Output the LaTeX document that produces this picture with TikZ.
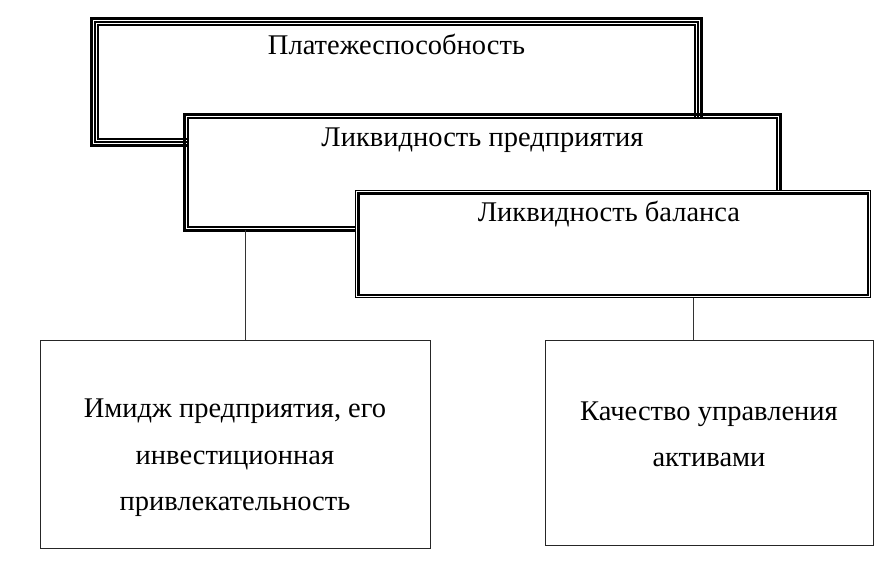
\documentclass[tikz,border=0pt]{standalone}
\usepackage{fontspec}
\setmainfont{Liberation Serif}
\usetikzlibrary{positioning, fit}

\begin{document}
\begin{tikzpicture}[
    x=1pt, y=-1pt,
    txt/.style={font=\fontsize{28.5}{46.5}\selectfont, align=center},
    frame/.style={rectangle, draw, fill=white, outer sep=0pt, line width=1.2pt},
    tripleframe/.style={frame, double=white, double distance=1.3pt, line width=1.4pt},
    rim/.style={rectangle, draw, line width=#1, inner sep=0pt, outer sep=0pt},
    plainbox/.style={rectangle, draw=black!85, fill=white, line width=1pt},
    link/.style={draw=black!80, line width=1pt}
]
    \useasboundingbox (0,0) rectangle (896,572);

    % upper stack of framed boxes
    \node (solv) [tripleframe, minimum width=600pt, minimum height=117pt] at (396.5,82) {};
    \node (solvrim) [rim=3pt, fit=(solv), inner sep=4.6pt] {};
    \node (solvtxt) [txt, anchor=base] at ([yshift=-31pt]solv.north) {Платежеспособность};

    \node (firm) [frame, minimum width=589pt, minimum height=109pt] at (482.5,172.5) {};
    \node (firmrim) [rim=3pt, fit=(firm), inner sep=3.3pt] {};
    \node (firmtxt) [txt, anchor=base] at ([yshift=-29pt]firm.north) {Ликвидность предприятия};

    \node (bal) [frame, minimum width=515pt, minimum height=107pt] at (613,244) {};
    \node (balrim) [rim=2.4pt, fit=(bal), inner sep=-2.8pt] {};
    \node (baltxt) [txt, anchor=base] at ([yshift=-31pt, xshift=-4pt]bal.north) {Ликвидность баланса};

    % lower boxes
    \node (image) [plainbox, minimum width=390pt, minimum height=208pt] at (235,444) {};
    \node (imagetxt) [txt] at ([yshift=-14pt]image.center)
        {Имидж предприятия, его\\инвестиционная\\привлекательность};
    \node (assets) [plainbox, minimum width=328pt, minimum height=205pt] at (709,442.5) {};
    \node (assetstxt) [txt] at ([yshift=8pt]assets.center) {Качество управления\\активами};

    \draw[link] ([xshift=10pt]image.north) -- ([xshift=10pt]image.north |- firmrim.south);
    \draw[link] ([xshift=-16pt]assets.north) -- ([xshift=-16pt]assets.north |- bal.south);
\end{tikzpicture}
\end{document}
